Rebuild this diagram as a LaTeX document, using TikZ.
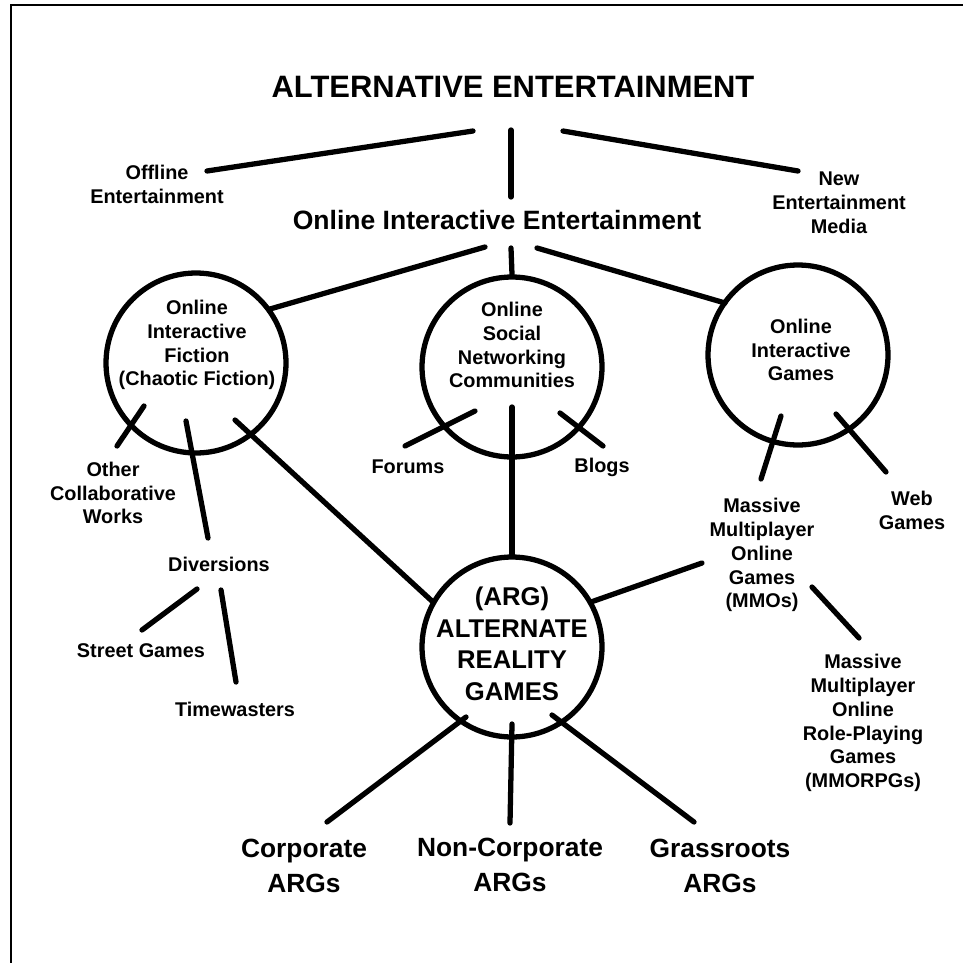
\documentclass[tikz,border=0pt]{standalone}
\usepackage{fontspec}
\setmainfont{Liberation Sans}
\usetikzlibrary{calc}

\tikzset{
    link/.style={line width=3pt, line cap=round},
    ring/.style={circle, draw, line width=3pt, minimum size=3.6cm, inner sep=0pt},
    smalltxt/.style={align=center, inner sep=0pt, font=\bfseries\fontsize{11.3}{13.6}\selectfont},
    argtxt/.style={align=center, inner sep=0pt, font=\bfseries\fontsize{14.6}{18}\selectfont},
    kindtxt/.style={align=center, inner sep=0pt, font=\bfseries\fontsize{15}{19.8}\selectfont},
}

\begin{document}
\begin{tikzpicture}[x=0.02cm, y=-0.02cm]
    \useasboundingbox (0,0) rectangle (963,963);
    \draw[line width=1.1pt] (11,963) |- (963,5);

    % top of the tree
    \node[inner sep=0pt, font=\bfseries\fontsize{17.6}{20}\selectfont] (title) at (513, 87) {ALTERNATIVE ENTERTAINMENT};
    \node[smalltxt] (offline) at (157, 184) {Offline\\Entertainment};
    \node[smalltxt] (newmedia) at (839, 203) {New\\Entertainment\\Media};
    \node[inner sep=0pt, font=\bfseries\fontsize{15.1}{18}\selectfont] (online) at (497, 220) {Online Interactive Entertainment};

    % circles
    \node[ring] (fic) at (196, 363) {};
    \node[smalltxt] (fictext) at (197, 345) {Online\\Interactive\\Fiction\\(Chaotic Fiction)};
    \node[ring] (soc) at (512, 367) {};
    \node[smalltxt] (soctext) at (512, 345) {Online\\Social\\Networking\\Communities};
    \node[ring] (gam) at (798, 355) {};
    \node[smalltxt] (gamtext) at (801, 350) {Online\\Interactive\\Games};
    \node[ring] (arg) at (512, 647) {};
    \node[argtxt] (argtext) at (512, 644) {(ARG)\\ALTERNATE\\REALITY\\GAMES};

    % leaves
    \node[smalltxt] (other) at (113, 493) {Other\\Collaborative\\Works};
    \node[smalltxt] (div) at (219, 564) {Diversions};
    \node[smalltxt] (street) at (141, 651) {Street Games};
    \node[smalltxt] (time) at (235, 709) {Timewasters};
    \node[smalltxt] (forums) at (408, 467) {Forums};
    \node[smalltxt] (blogs) at (602, 467) {Blogs};
    \node[smalltxt] (mmo) at (762, 555) {Massive\\Multiplayer\\Online\\Games\\(MMOs)};
    \node[smalltxt] (web) at (912, 510) {Web\\Games};
    \node[smalltxt] (mmorpg) at (863, 723) {Massive\\Multiplayer\\Online\\Role-Playing\\Games\\(MMORPGs)};
    \node[kindtxt] (corp) at (304, 866) {Corporate\\ARGs};
    \node[kindtxt] (noncorp) at (510, 865) {Non-Corporate\\ARGs};
    \node[kindtxt] (grass) at (720, 866) {Grassroots\\ARGs};

    \draw[link] ($(title) + (-40, 44)$) -- ($(offline) + (50, -13)$);
    \draw[link] ($(title) + (-2, 43)$) -- ($(online) + (14, -23)$);
    \draw[link] ($(title) + (50, 44)$) -- ($(newmedia) + (-41, -32)$);

    \draw[link] ($(online) + (-12, 27)$) -- ($(fic) + (74, -54)$);
    \draw[link] ($(online) + (14, 28)$) -- (soc.north);
    \draw[link] ($(online) + (40, 28)$) -- ($(gam) + (-73, -52)$);

    \draw[link] ($(fic) + (-52, 43)$) -- ($(other) + (4, -47)$);
    \draw[link] ($(fic) + (-10, 58)$) -- ($(div) + (-11, -26)$);
    \draw[link] ($(fic) + (39, 57)$) -- ($(arg) + (-79, -45)$);
    \draw[link] ($(div) + (-22, 25)$) -- ($(street) + (1, -21)$);
    \draw[link] ($(div) + (2, 26)$) -- ($(time) + (1, -27)$);

    \draw[link] ($(soc) + (-37, 44)$) -- ($(forums) + (-3, -21)$);
    \draw[link] ($(soc) + (48, 46)$) -- ($(blogs) + (1, -21)$);
    \draw[link] ($(soc) + (0, 40)$) -- (arg.north);

    \draw[link] ($(gam) + (-17, 61)$) -- ($(mmo) + (-1, -76)$);
    \draw[link] ($(gam) + (38, 59)$) -- ($(web) + (-26, -38)$);
    \draw[link] ($(arg) + (79, -45)$) -- ($(mmo) + (-60, 8)$);
    \draw[link] ($(mmo) + (50, 32)$) -- ($(mmorpg) + (-4, -85)$);

    \draw[link] ($(arg) + (-46, 70)$) -- ($(corp) + (23, -44)$);
    \draw[link] ($(arg) + (0, 77)$) -- ($(noncorp) + (0, -42)$);
    \draw[link] ($(arg) + (40, 68)$) -- ($(grass) + (-26, -44)$);
\end{tikzpicture}
\end{document}
